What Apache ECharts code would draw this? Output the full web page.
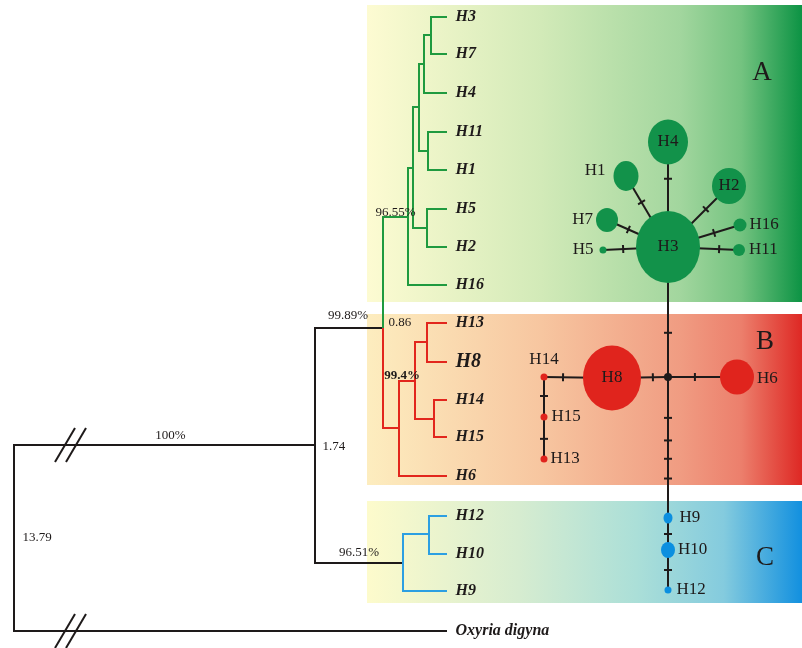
<!DOCTYPE html>
<html><head><meta charset="utf-8">
<script src="https://cdn.jsdelivr.net/npm/echarts@6/dist/echarts.min.js"></script>
<style>html,body{margin:0;padding:0;background:#fff}#c{width:802px;height:648px}</style>
</head><body><div id="c"></div>
<script>
// ===== DATA =====
// clade panels (A, B, C)
const panelNames = ['A', 'B', 'C'];
const panelTop = [5, 314, 501];
const panelBottom = [302, 485, 603];
const panelLeft = 367, panelRight = 802;
const panelLetterX = [762, 765, 765];
const panelLetterY = [73, 342, 558];

// phylogenetic tree: node id, depth (x), row (y), parent, clade of the branch
const nodeIds    = ['root','ingroup','Oxyria digyna','AB','A','A2','A1','A374','A37','H3','H7','H4','A111','H11','H1','A52','H5','H2','H16','B','B1','B138','H13','H8','B1415','H14','H15','H6','C','C1210','H12','H10','H9'];
const nodeDepth  = [14,315,447,383,408,413,419,424,431,447,447,447,428,447,447,427,447,447,447,399,415,427,447,447,434,447,447,447,403,429,447,447,447];
const nodeRow    = [538,445,631,328,217,168,107,64,35,17,54,93,151,132,170,228,209,247,285,428,381,342,323,362,419,400,437,476,563,534,516,554,591];
const nodeParent = [null,'root','root','ingroup','AB','A','A2','A1','A374','A37','A37','A374','A1','A111','A111','A2','A52','A52','A','AB','B','B1','B138','B138','B1','B1415','B1415','B','ingroup','C','C1210','C1210','C'];
const nodeClade  = ['O','O','O','O','A','A','A','A','A','A','A','A','A','A','A','A','A','A','A','B','B','B','B','B','B','B','B','B','O','C','C','C','C'];

// branch support (bootstrap) on the branch leading to the node
const supportNode  = ['ingroup','AB','A','B1','C'];
const supportValue = ['100%','99.89%','96.55%','99.4%','96.51%'];
// values printed at nodes
const nodeValueNode = ['root','ingroup','AB'];
const nodeValueText = ['13.79','1.74','0.86'];
// branches shortened (broken) in the drawing
const brokenBranches = ['ingroup','Oxyria digyna'];

// haplotype network
const hapNames = ['H3','H4','H1','H2','H7','H5','H16','H11','mv','H8','H6','H14','H15','H13','H9','H10','H12'];
const hapX     = [668,668,626,729,607,603,740,739,668,612,737,544,544,544,668,668,668];
const hapY     = [247,142,176,186,220,250,225,250,377,378,377,377,417,459,518,550,590];
const hapW     = [64,40,25,34,22,7,13,12,8,58,34,7,7,7,9,14,7];
const hapH     = [72,45,30,36,24,7,13,12,8,65,35,7,7,7,11,16,7];
const hapGroup = ['A','A','A','A','A','A','A','A','mv','B','B','B','B','B','C','C','C'];
const linkFrom = ['H3','H3','H3','H3','H3','H3','H3','H3','mv','mv','H8','H14','H15','mv','H9','H10'];
const linkTo   = ['H4','H1','H2','H7','H5','H16','H11','mv','H8','H6','H14','H15','H13','H9','H10','H12'];
const linkSteps = [[0.65],[0.63],[0.62],[0.65],[0.69],[0.64],[0.72],[0.66],[0.27],[0.39],[0.72],[0.475],[0.52],[0.29,0.45,0.58,0.72],[0.5],[0.5]];

// ===== STYLE =====
const SERIF = '"Liberation Serif","DejaVu Serif",serif';
const INK = '#1e1a1a';
const treeColor = {O: INK, A: '#1f9a3f', B: '#e2261d', C: '#2c9fe2'};
const hapColor = {A: '#12924a', B: '#e0241d', C: '#0b8fe0', mv: INK};
const panelStops = [
  [[0,'#fdfbd2'],[0.4,'#d2eab8'],[0.72,'#a2d69e'],[0.86,'#74c380'],[1,'#0c9344']],
  [[0,'#fdedbf'],[0.4,'#f7c6a0'],[0.72,'#f09c82'],[0.86,'#ec7f6c'],[1,'#de2824']],
  [[0,'#fdfbcc'],[0.35,'#d6ecd0'],[0.62,'#abdfd8'],[0.82,'#84cbde'],[1,'#1290df']]
];
const supportOffset = [[6,-9],[-1,-12],[0,-4],[-5,-5],[0,-10]];
const supportBold = [false,false,false,true,false];
const nodeValueDist = [8,7,5];
const nodeValueDy = [0,1,0];
const hapLabel = {
  H3:['inside',0], H4:['inside',0], H2:['inside',0], H8:['inside',0],
  H1:['left',8,-5], H7:['left',3], H5:['left',6], H16:['right',3], H11:['right',4],
  H6:['right',3,2], H14:['top',5], H15:['right',4], H13:['right',3],
  H9:['right',7], H10:['right',3], H12:['right',5]
};

// ===== BUILD =====
const idx = {};
nodeIds.forEach((id, i) => idx[id] = i);
const hasChild = new Set(nodeParent.filter(p => p));

const treeLines = [];
nodeIds.forEach((id, i) => {
  const p = nodeParent[i];
  if (!p) return;
  const j = idx[p];
  treeLines.push({
    coords: [[nodeDepth[j], nodeRow[j]], [nodeDepth[j], nodeRow[i]], [nodeDepth[i], nodeRow[i]]],
    lineStyle: {color: treeColor[nodeClade[i]]}
  });
});

const tipData = nodeIds.map((id, i) => i).filter(i => !hasChild.has(nodeIds[i])).map(i => ({
  value: [nodeDepth[i], nodeRow[i]], name: nodeIds[i],
  label: nodeIds[i] === 'H8' ? {fontSize: 20} : {}
}));

const supportData = supportNode.map((id, k) => {
  const i = idx[id], j = idx[nodeParent[i]];
  return {
    value: [(nodeDepth[i] + nodeDepth[j]) / 2, nodeRow[i]], name: supportValue[k],
    label: {offset: supportOffset[k], fontWeight: supportBold[k] ? 'bold' : 'normal'}
  };
});

const nodeValueData = nodeValueNode.map((id, k) => {
  const i = idx[id];
  const ys = nodeIds.map((n, c) => c).filter(c => nodeParent[c] === id).map(c => nodeRow[c]);
  return {
    value: [nodeDepth[i], (Math.min(...ys) + Math.max(...ys)) / 2 + nodeValueDy[k]], name: nodeValueText[k],
    label: {distance: nodeValueDist[k]}
  };
});

const breakData = brokenBranches.map(id => {
  const i = idx[id], j = idx[nodeParent[i]];
  return [nodeDepth[j], nodeRow[i]];
});

const hIdx = {};
hapNames.forEach((n, i) => hIdx[n] = i);
const netLines = linkFrom.map((f, k) => ({
  coords: [[hapX[hIdx[f]], hapY[hIdx[f]]], [hapX[hIdx[linkTo[k]]], hapY[hIdx[linkTo[k]]]]]
}));
const tickData = [];
linkFrom.forEach((f, k) => {
  const a = hIdx[f], b = hIdx[linkTo[k]];
  linkSteps[k].forEach(t => tickData.push([hapX[a], hapY[a], hapX[b], hapY[b], t]));
});
const hapData = hapNames.map((n, i) => {
  const lab = hapLabel[n];
  return {
    value: [hapX[i], hapY[i]], name: n,
    symbolSize: [hapW[i], hapH[i]],
    itemStyle: {color: hapColor[hapGroup[i]], opacity: 1},
    label: lab ? {show: true, position: lab[0], distance: lab[1], offset: [0, lab[2] || 0]} : {show: false}
  };
});

const hidden = {color: 'transparent', opacity: 1};
const chart = echarts.init(document.getElementById('c'), null, {renderer: 'canvas'});
chart.setOption({
  animation: false,
  backgroundColor: '#ffffff',
  grid: {left: 0, right: 0, top: 0, bottom: 0},
  xAxis: {type: 'value', min: 0, max: 802, show: false},
  yAxis: {type: 'value', min: 0, max: 648, inverse: true, show: false},
  series: [
    { // panels
      type: 'custom', coordinateSystem: 'cartesian2d', silent: true, z: 1,
      data: panelNames.map((n, i) => [panelLeft, panelTop[i], panelRight, panelBottom[i], i]),
      renderItem(params, api) {
        const p0 = api.coord([api.value(0), api.value(1)]);
        const p1 = api.coord([api.value(2), api.value(3)]);
        const i = api.value(4);
        return {
          type: 'rect',
          shape: {x: p0[0], y: p0[1], width: p1[0] - p0[0], height: p1[1] - p0[1]},
          style: {fill: new echarts.graphic.LinearGradient(0, 0, 1, 0,
            panelStops[i].map(s => ({offset: s[0], color: s[1]})))}
        };
      }
    },
    { // panel letters
      type: 'scatter', silent: true, z: 6, symbolSize: 1, itemStyle: hidden,
      data: panelNames.map((n, i) => ({value: [panelLetterX[i], panelLetterY[i]], name: n})),
      label: {show: true, position: 'inside', formatter: '{b}', fontFamily: SERIF, fontSize: 27, color: INK, opacity: 1}
    },
    { // tree
      type: 'lines', coordinateSystem: 'cartesian2d', polyline: true, silent: true, z: 2,
      lineStyle: {width: 2, opacity: 1},
      data: treeLines
    },
    { // break marks
      type: 'custom', coordinateSystem: 'cartesian2d', silent: true, z: 3,
      data: breakData,
      renderItem(params, api) {
        const p = api.coord([api.value(0), api.value(1)]);
        const mk = dx => ({type: 'line', shape: {x1: p[0] + dx - 10, y1: p[1] + 17, x2: p[0] + dx + 10, y2: p[1] - 17},
          style: {stroke: INK, lineWidth: 2}});
        return {type: 'group', children: [mk(51), mk(62)]};
      }
    },
    { // tip labels
      type: 'scatter', silent: true, z: 6, symbolSize: 1, itemStyle: hidden,
      data: tipData,
      label: {show: true, position: 'right', distance: 8, formatter: '{b}', fontFamily: SERIF,
        fontStyle: 'italic', fontWeight: 'bold', fontSize: 16, color: INK, opacity: 1}
    },
    { // branch supports
      type: 'scatter', silent: true, z: 6, symbolSize: 1, itemStyle: hidden,
      data: supportData,
      label: {show: true, position: 'inside', formatter: '{b}', fontFamily: SERIF, fontSize: 13, color: INK, opacity: 1}
    },
    { // node values
      type: 'scatter', silent: true, z: 6, symbolSize: 1, itemStyle: hidden,
      data: nodeValueData,
      label: {show: true, position: 'right', formatter: '{b}', fontFamily: SERIF, fontSize: 13, color: INK, opacity: 1}
    },
    { // network links
      type: 'lines', coordinateSystem: 'cartesian2d', silent: true, z: 3,
      lineStyle: {width: 2, color: INK, opacity: 1},
      data: netLines
    },
    { // mutation ticks
      type: 'custom', coordinateSystem: 'cartesian2d', silent: true, z: 4,
      data: tickData,
      renderItem(params, api) {
        const a = api.coord([api.value(0), api.value(1)]);
        const b = api.coord([api.value(2), api.value(3)]);
        const t = api.value(4);
        const x = a[0] + (b[0] - a[0]) * t, y = a[1] + (b[1] - a[1]) * t;
        const len = Math.hypot(b[0] - a[0], b[1] - a[1]);
        const nx = -(b[1] - a[1]) / len * 4, ny = (b[0] - a[0]) / len * 4;
        return {type: 'line', shape: {x1: x - nx, y1: y - ny, x2: x + nx, y2: y + ny},
          style: {stroke: INK, lineWidth: 2}};
      }
    },
    { // haplotypes
      type: 'scatter', silent: true, z: 5, symbol: 'circle',
      itemStyle: {opacity: 1},
      data: hapData,
      label: {formatter: '{b}', fontFamily: SERIF, fontSize: 17, color: INK, opacity: 1}
    }
  ]
});
</script>
</body></html>
